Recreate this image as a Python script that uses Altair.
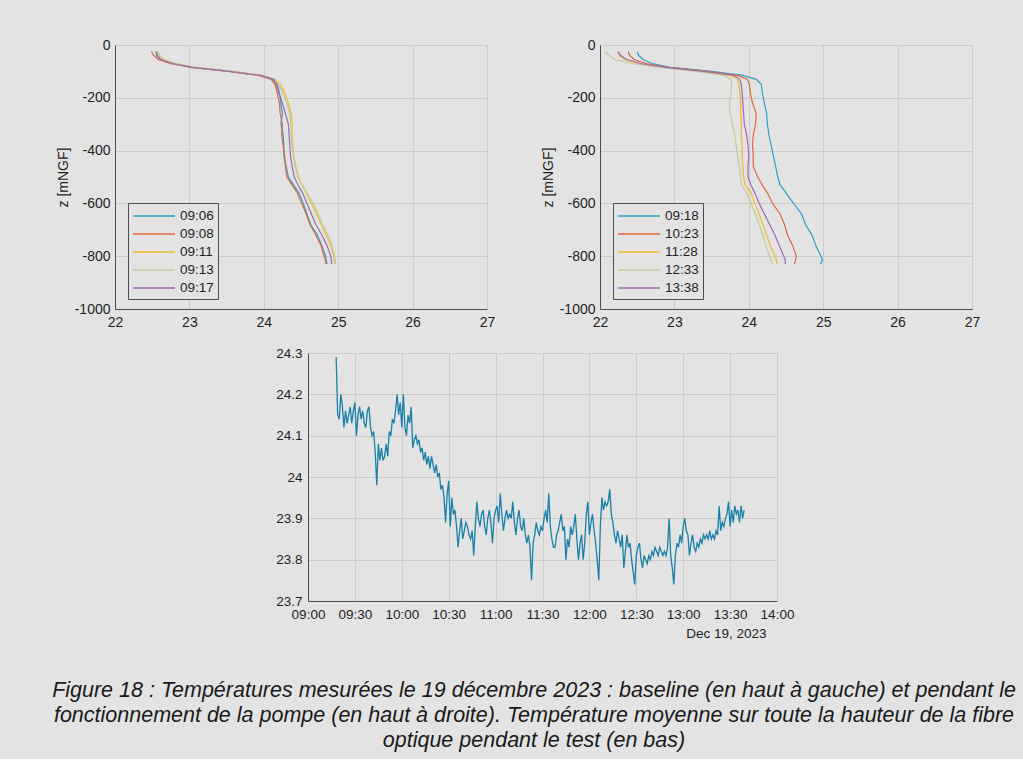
import altair as alt
import pandas as pd

# ---------------- data ----------------
Z = [-25, -40, -55, -70, -85, -100, -115, -130, -150, -180, -220, -260, -300, -340,
     -380, -420, -460, -500, -530, -560, -600, -640, -680, -720, -760, -800, -815, -830]

BASE_LABELS = ["09:06", "09:08", "09:11", "09:13", "09:17"]
BASE_0906 = [22.56, 22.57, 22.62, 22.78, 23.05, 23.55, 23.95, 24.12, 24.18, 24.21, 24.23, 24.25, 24.23, 24.26,
             24.27, 24.27, 24.30, 24.33, 24.40, 24.47, 24.53, 24.58, 24.63, 24.72, 24.78, 24.83, 24.84, 24.85]
BASE_0908 = [22.49, 22.52, 22.58, 22.74, 23.02, 23.52, 23.93, 24.10, 24.15, 24.18, 24.21, 24.22, 24.25, 24.24,
             24.26, 24.28, 24.29, 24.31, 24.38, 24.45, 24.51, 24.57, 24.62, 24.70, 24.77, 24.81, 24.83, 24.83]
BASE_0911 = [22.58, 22.60, 22.66, 22.82, 23.08, 23.58, 23.98, 24.15, 24.22, 24.28, 24.33, 24.37, 24.38, 24.38,
             24.39, 24.40, 24.43, 24.47, 24.51, 24.57, 24.64, 24.71, 24.77, 24.84, 24.90, 24.94, 24.95, 24.95]
BASE_0913 = [22.57, 22.59, 22.65, 22.80, 23.07, 23.57, 23.97, 24.14, 24.20, 24.25, 24.31, 24.35, 24.36, 24.37,
             24.38, 24.40, 24.42, 24.46, 24.52, 24.58, 24.66, 24.73, 24.79, 24.86, 24.92, 24.95, 24.96, 24.96]
BASE_0917 = [22.55, 22.56, 22.61, 22.77, 23.04, 23.54, 23.96, 24.13, 24.17, 24.20, 24.25, 24.29, 24.33, 24.34,
             24.35, 24.36, 24.38, 24.41, 24.46, 24.52, 24.58, 24.64, 24.70, 24.78, 24.85, 24.90, 24.91, 24.91]

PUMP_LABELS = ["09:18", "10:23", "11:28", "12:33", "13:38"]
PUMP_0918 = [22.50, 22.52, 22.58, 22.70, 22.95, 23.50, 23.92, 24.10, 24.17, 24.18, 24.21, 24.24, 24.25, 24.27,
             24.30, 24.33, 24.36, 24.39, 24.42, 24.50, 24.60, 24.71, 24.76, 24.85, 24.90, 24.97, 24.99, 24.96]
PUMP_1023 = [22.38, 22.40, 22.46, 22.62, 22.92, 23.45, 23.85, 23.98, 24.01, 24.02, 24.05, 24.10, 24.09, 24.06,
             24.05, 24.06, 24.06, 24.12, 24.18, 24.25, 24.32, 24.42, 24.48, 24.52, 24.59, 24.64, 24.63, 24.61]
PUMP_1128 = [22.24, 22.26, 22.33, 22.50, 22.85, 23.38, 23.76, 23.85, 23.87, 23.88, 23.89, 23.89, 23.90, 23.90,
             23.91, 23.91, 23.92, 23.93, 23.95, 24.03, 24.08, 24.14, 24.19, 24.24, 24.29, 24.35, 24.37, 24.38]
PUMP_1233 = [22.08, 22.12, 22.20, 22.42, 22.80, 23.28, 23.66, 23.76, 23.77, 23.76, 23.74, 23.75, 23.78, 23.81,
             23.83, 23.85, 23.87, 23.89, 23.90, 23.97, 24.03, 24.09, 24.14, 24.19, 24.23, 24.28, 24.30, 24.31]
PUMP_1338 = [22.24, 22.28, 22.36, 22.55, 22.88, 23.40, 23.80, 23.88, 23.90, 23.91, 23.92, 23.93, 23.94, 23.97,
             23.99, 24.00, 23.99, 23.99, 24.03, 24.08, 24.14, 24.21, 24.28, 24.35, 24.41, 24.47, 24.49, 24.49]

COLORS = ["#2e9fca", "#e0683f", "#ecbc2c", "#c3cb9a", "#9a6ab4"]

X_TICKS = [22, 23, 24, 25, 26, 27]
Z_TICKS = [0, -200, -400, -600, -800, -1000]

# mean temperature, one value per minute from 09:18 to 13:39
TS_START = "2023-12-19 09:18"
TS_VALUES = [
    24.29, 24.15, 24.14, 24.20, 24.17, 24.12, 24.16, 24.13, 24.15, 24.17,
    24.13, 24.16, 24.18, 24.10, 24.15, 24.17, 24.14, 24.16, 24.13, 24.12,
    24.16, 24.17, 24.12, 24.10, 24.11, 24.06, 23.98, 24.08, 24.04, 24.07,
    24.04, 24.05, 24.08, 24.05, 24.11, 24.10, 24.14, 24.13, 24.16, 24.20,
    24.15, 24.18, 24.12, 24.20, 24.12, 24.10, 24.15, 24.13, 24.17, 24.07,
    24.09, 24.10, 24.08, 24.09, 24.06, 24.07, 24.04, 24.06, 24.03, 24.05,
    24.02, 24.05, 24.03, 24.01, 24.03, 24.00, 24.01, 23.97, 23.98, 23.95,
    23.89, 23.96, 23.99, 23.88, 23.95, 23.91, 23.92, 23.88, 23.83, 23.87,
    23.90, 23.85, 23.87, 23.89, 23.88, 23.86, 23.85, 23.87, 23.81, 23.88,
    23.94, 23.90, 23.88, 23.91, 23.92, 23.88, 23.86, 23.90, 23.92, 23.89,
    23.84, 23.90, 23.92, 23.93, 23.89, 23.96, 23.91, 23.87, 23.90, 23.92,
    23.90, 23.91, 23.90, 23.94, 23.89, 23.86, 23.90, 23.92, 23.88, 23.87,
    23.90, 23.86, 23.84, 23.86, 23.83, 23.75, 23.84, 23.86, 23.89, 23.87,
    23.86, 23.88, 23.87, 23.90, 23.92, 23.89, 23.96, 23.88, 23.85, 23.83,
    23.83, 23.86, 23.87, 23.89, 23.91, 23.87, 23.88, 23.80, 23.85, 23.83,
    23.88, 23.86, 23.88, 23.91, 23.85, 23.80, 23.84, 23.86, 23.80, 23.84,
    23.91, 23.94, 23.86, 23.89, 23.91, 23.87, 23.84, 23.80, 23.75, 23.88,
    23.95, 23.92, 23.94, 23.93, 23.94, 23.97, 23.91, 23.89, 23.86, 23.84,
    23.87, 23.85, 23.83, 23.86, 23.78, 23.82, 23.86, 23.83, 23.84, 23.80,
    23.77, 23.74, 23.81, 23.83, 23.84, 23.80, 23.78, 23.81, 23.80, 23.79,
    23.81, 23.80, 23.82, 23.81, 23.83, 23.82, 23.81, 23.83, 23.82, 23.81,
    23.82, 23.81, 23.83, 23.90, 23.81, 23.78, 23.74, 23.81, 23.84, 23.83,
    23.86, 23.84, 23.88, 23.90, 23.87, 23.86, 23.81, 23.84, 23.86, 23.83,
    23.82, 23.84, 23.83, 23.85, 23.84, 23.86, 23.85, 23.86, 23.85, 23.87,
    23.85, 23.86, 23.85, 23.87, 23.86, 23.93, 23.87, 23.89, 23.88, 23.90,
    23.91, 23.94, 23.88, 23.92, 23.89, 23.93, 23.91, 23.92, 23.89, 23.93, 23.90, 23.92,
]
TS_TICK_TIMES = [(9, 0), (9, 30), (10, 0), (10, 30), (11, 0), (11, 30), (12, 0),
                 (12, 30), (13, 0), (13, 30), (14, 0)]
TS_Y_TICKS = [23.7, 23.8, 23.9, 24.0, 24.1, 24.2, 24.3]

CAPTION = [
    "Figure 18 : Températures mesurées le 19 décembre 2023 : baseline (en haut à gauche) et pendant le",
    "fonctionnement de la pompe (en haut à droite). Température moyenne sur toute la hauteur de la fibre",
    "optique pendant le test (en bas)",
]

# ---------------- build ----------------
FONT = "Liberation Sans"
BG = "#e3e3e3"


def long_df(labels, series):
    rows = []
    for lab, vals in zip(labels, series):
        for i, (z, t) in enumerate(zip(Z, vals)):
            rows.append({"time": lab, "T": t, "z": z, "i": i})
    return pd.DataFrame(rows)


base_df = long_df(BASE_LABELS, [BASE_0906, BASE_0908, BASE_0911, BASE_0913, BASE_0917])
pump_df = long_df(PUMP_LABELS, [PUMP_0918, PUMP_1023, PUMP_1128, PUMP_1233, PUMP_1338])

ts_df = pd.DataFrame({
    "t": pd.date_range(TS_START, periods=len(TS_VALUES), freq="min").strftime("%Y-%m-%dT%H:%M:%S"),
    "v": TS_VALUES,
})


def profile(df, labels):
    return alt.Chart(df).mark_line(strokeWidth=1.2).encode(
        x=alt.X("T:Q", scale=alt.Scale(domain=[22, 27], nice=False, zero=False),
                axis=alt.Axis(values=X_TICKS, title=None, labelPadding=6)),
        y=alt.Y("z:Q", scale=alt.Scale(domain=[-1000, 0], nice=False),
                axis=alt.Axis(values=Z_TICKS, title="z [mNGF]", labelExpr="'' + datum.value",
                              labelPadding=5, titlePadding=4)),
        color=alt.Color("time:N", scale=alt.Scale(domain=labels, range=COLORS),
                        legend=alt.Legend(title=None, orient="none", legendX=13, legendY=158,
                                          padding=4, strokeColor="#4d4d4d", fillColor=BG,
                                          symbolType="M-1,0H4.25", symbolSize=256,
                                          symbolStrokeWidth=1.6, labelOffset=30,
                                          labelFontSize=13.5, labelFont=FONT, labelColor="#1f1f1f",
                                          rowPadding=2)),
        order=alt.Order("i:Q"),
    ).properties(width=372, height=264)


left = profile(base_df, BASE_LABELS)
right = profile(pump_df, PUMP_LABELS)

top = alt.hconcat(left, right, spacing=44).resolve_scale(color="independent")

tick_dts = [alt.DateTime(year=2023, month=12, date=19, hours=h, minutes=m) for h, m in TS_TICK_TIMES]

bottom = alt.Chart(ts_df).mark_line(strokeWidth=1.3, color="#1a80a8").encode(
    x=alt.X("t:T", scale=alt.Scale(domain=[tick_dts[0], tick_dts[-1]]),
            axis=alt.Axis(values=tick_dts, format="%H:%M", title="Dec 19, 2023",
                          titleX=458, titleY=36, titleAlign="right", titleBaseline="alphabetic",
                          titleAnchor="start", labelPadding=6, labelFontSize=13.5,
                          titleFontSize=13.5, labelOverlap=False)),
    y=alt.Y("v:Q", scale=alt.Scale(domain=[23.7, 24.3], nice=False, zero=False),
            axis=alt.Axis(values=TS_Y_TICKS, title=None, format="~g", labelPadding=6,
                          labelFontSize=13.5)),
).properties(width=469, height=248)

spacer = alt.Chart(pd.DataFrame({"a": [0]})).mark_point(opacity=0, size=0).properties(
    width=160, height=1)

bottom_row = alt.hconcat(spacer, bottom, spacing=0)

chart = alt.vconcat(top, bottom_row, spacing=15).properties(
    title=alt.TitleParams(text=CAPTION, orient="bottom", anchor="middle", font=FONT,
                          fontSize=21.5, fontStyle="italic", fontWeight="normal", color="#1a1a1a",
                          lineHeight=25, offset=40, dx=16),
    padding={"left": 52, "top": 37, "right": 7, "bottom": 7},
    background=BG,
).configure_view(stroke="transparent").configure_axis(
    domainColor="#4d4d4d", domainWidth=1, gridColor="#cbcbcb", gridWidth=1, ticks=False,
    labelFont=FONT, labelFontSize=14, labelColor="#1f1f1f", labelFlush=False,
    titleFont=FONT, titleFontSize=14, titleFontWeight="normal", titleColor="#1f1f1f",
)

chart.save("out.html", embed_options={"renderer": "svg", "actions": False})
